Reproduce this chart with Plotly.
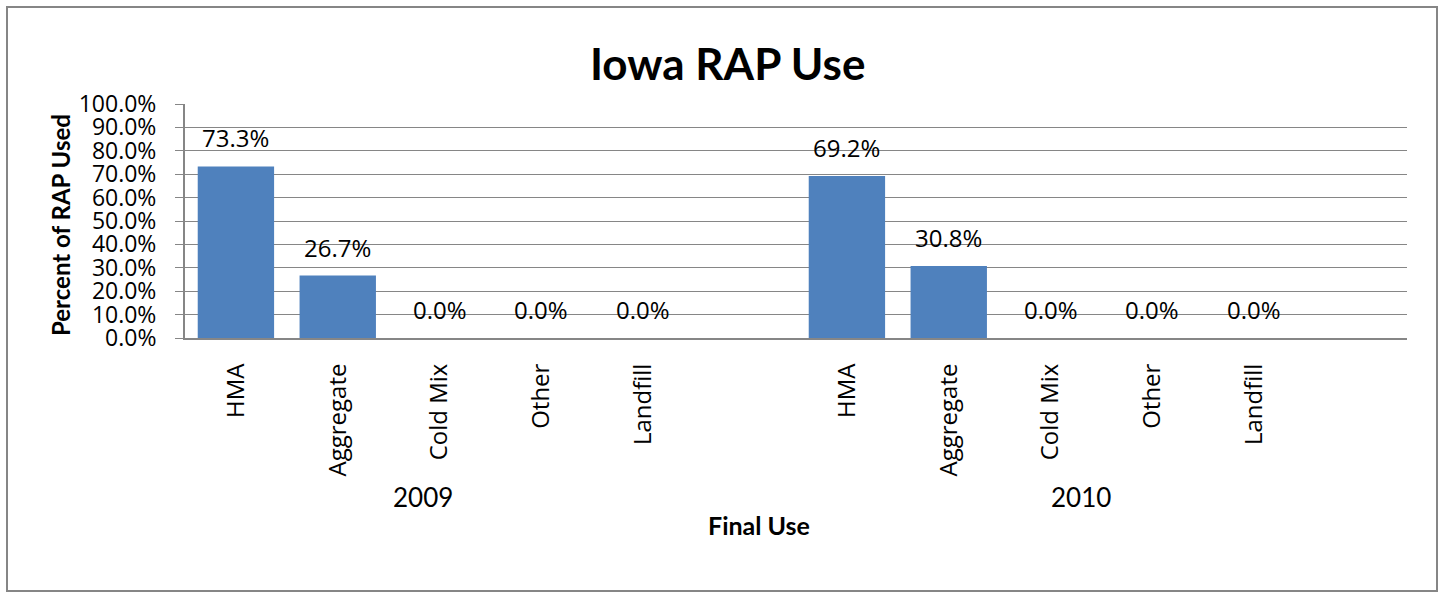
import plotly.graph_objects as go

#%% Data
years = ["2009", "2010"]
uses = ["HMA", "Aggregate", "Cold Mix", "Other", "Landfill"]
pct_2009 = [73.3, 26.7, 0.0, 0.0, 0.0]
pct_2010 = [69.2, 30.8, 0.0, 0.0, 0.0]

#%% Layout constants (pixels)
W, H = 1445, 594
L, R, T, B = 185, 38, 104, 256
pw, ph = W - L - R, H - T - B

def px(xp):  # pixel x -> paper x
    return (xp - L) / pw

def py(yp):  # pixel y -> paper y
    return (H - B - yp) / ph

grid = "#868686"
blue = "#4F81BD"
tick_font = dict(family="Open Sans", size=24, color="black")

# Excel leaves one empty slot after each year's group
slots = len(uses) + 1
x, y, ticktext = [], [], []
for g, vals in enumerate([pct_2009, pct_2010]):
    for i, v in enumerate(vals):
        x.append(g * slots + i)
        y.append(v / 100)
        ticktext.append(uses[i])

fig = go.Figure(go.Bar(
    x=x, y=y, width=0.75,
    marker=dict(color=blue, line=dict(width=0)),
    hoverinfo="skip",
))

ann = []
for xi, yi in zip(x, y):
    ann.append(dict(x=xi, y=yi, xref="x", yref="y", text=f"{yi:.1%}",
                    showarrow=False, xanchor="center", yanchor="bottom", yshift=10,
                    font=tick_font))

def label(text, xp, yp, size, angle=0):
    return dict(x=px(xp), y=py(yp), xref="paper", yref="paper", text=text,
                showarrow=False, xanchor="center", yanchor="middle", textangle=angle,
                font=dict(family="Lato", size=size, color="black"))

# year labels and titles
for yr, xp in zip(years, [423, 1081]):
    ann.append(label(yr, xp, 497, 26))
ann.append(label("<b>Final Use</b>", 759, 525, 25))
ann.append(label("<b>Percent of RAP Used</b>", 60, 225, 24, angle=-90))
ann.append(label("<b>Iowa RAP Use</b>", 727, 63, 44))

fig.update_layout(
    width=W, height=H,
    margin=dict(l=L, r=R, t=T, b=B),
    paper_bgcolor="white", plot_bgcolor="white",
    showlegend=False,
    annotations=ann,
    shapes=[dict(type="rect", xref="paper", yref="paper",
                 x0=px(7), x1=px(1437), y0=py(591), y1=py(7),
                 line=dict(color=grid, width=2))],
)
fig.update_xaxes(
    range=[-0.5, 2 * slots - 0.5], tickvals=x, ticktext=ticktext, tickangle=-90,
    showgrid=False, zeroline=False, showline=True, linecolor=grid, linewidth=2,
    ticks="", ticklabelstandoff=14, tickfont=tick_font, fixedrange=True,
)
fig.update_yaxes(
    range=[0, 1], tickvals=[i / 10 for i in range(11)], tickformat=".1%",
    showgrid=True, gridcolor=grid, gridwidth=1, zeroline=False,
    showline=True, linecolor=grid, linewidth=2, ticks="outside", ticklen=8, tickcolor=grid,
    ticklabelstandoff=14, tickfont=dict(family="Open Sans", size=23, color="black"),
    fixedrange=True,
)

fig.write_html("out.html", config={"displayModeBar": False},
               post_script="document.body.style.margin='0';")
